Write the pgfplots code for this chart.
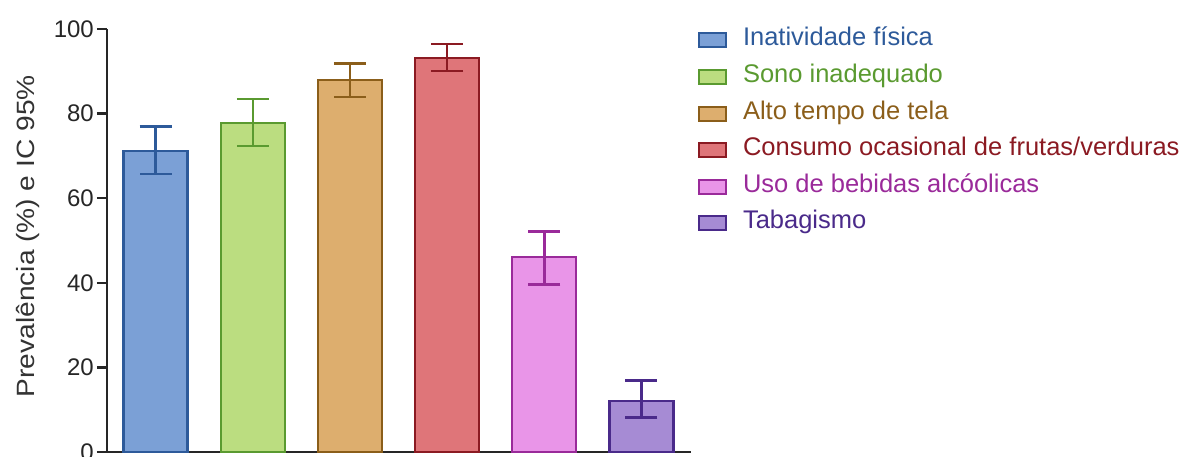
\documentclass[border=0pt]{standalone}
\usepackage{fontspec}
\setmainfont{Liberation Sans}
\usepackage{graphicx}
\usepackage{pgfplots}
\pgfplotsset{compat=1.18}
\definecolor{bluef}{HTML}{7BA0D6}\definecolor{bluee}{HTML}{2D5A9A}
\definecolor{greenf}{HTML}{BBDD80}\definecolor{greene}{HTML}{5A9A30}
\definecolor{orangef}{HTML}{DDAE6E}\definecolor{orangee}{HTML}{8B5E1A}
\definecolor{redf}{HTML}{DF7579}\definecolor{rede}{HTML}{8B1A22}
\definecolor{pinkf}{HTML}{E995E8}\definecolor{pinke}{HTML}{9A2A9A}
\definecolor{purplef}{HTML}{A68BD4}\definecolor{purplee}{HTML}{4A2A8A}
\pgfplotsset{
  mybar/.style 2 args={fill=#1, draw=#2, line width=2.3pt,
    error bars/.cd, y dir=both, y explicit,
    error bar style={line width=2.5pt, draw=#2},
    error mark options={rotate=90, mark size=16pt, line width=2.5pt, draw=#2}},
}
\begin{document}
\begin{tikzpicture}[x=1pt,y=1pt]
\begin{axis}[
  at={(0pt,0pt)}, anchor=south west,
  scale only axis, width=584pt, height=423pt,
  xmin=-0.5, xmax=5.51, ymin=0, ymax=100,
  axis x line*=bottom, axis y line*=left,
  xtick=\empty, ytick={0,20,...,100},
  tick align=outside, major tick length=10pt,
  every tick/.style={line width=2.3pt, color=black!85},
  axis line style={line width=2.3pt, color=black!85},
  /pgf/number format/assume math mode=true,
  ticklabel style={font=\fontsize{24}{28}\selectfont, color=black!85},
  yticklabel style={inner sep=0pt, xshift=-3pt},
  ylabel={\scalebox{1.125}[1]{Prevalência (\%) e IC 95\%}},
  ylabel style={at={(axis description cs:-0.135,0.51)}, anchor=center, font=\fontsize{25}{30}\selectfont, color=black!80},
  ybar, bar width=64pt, bar shift=0pt,
  clip=false,
  legend style={at={(axis description cs:1.012,1)}, anchor=north west, draw=none, fill=none,
    inner sep=0pt, outer sep=0pt, font=\fontsize{25.5}{30}\selectfont, row sep=13.6pt,
    nodes={inner sep=0pt, text height=17pt, text depth=6pt},
    /tikz/every odd column/.style={column sep=16pt}},
  legend cell align=left,
  legend image code/.code={\draw[#1, line width=2pt] (0pt,-7pt) rectangle (27pt,7pt);},
]
\addplot[mybar={bluef}{bluee}] coordinates {(0,71.2) += (0,5.7) -= (0,5.5)};
\addlegendentry{\textcolor{bluee}{Inatividade física}}
\addplot[mybar={greenf}{greene}] coordinates {(1,77.8) += (0,5.7) -= (0,5.5)};
\addlegendentry{\textcolor{greene}{Sono inadequado}}
\addplot[mybar={orangef}{orangee}] coordinates {(2,87.9) += (0,3.9) -= (0,4.0)};
\addlegendentry{\textcolor{orangee}{Alto tempo de tela}}
\addplot[mybar={redf}{rede}] coordinates {(3,93.2) += (0,3.2) -= (0,3.1)};
\addlegendentry{\textcolor{rede}{Consumo ocasional de frutas/verduras}}
\addplot[mybar={pinkf}{pinke}] coordinates {(4,46.1) += (0,6.0) -= (0,6.5)};
\addlegendentry{\textcolor{pinke}{Uso de bebidas alcóolicas}}
\addplot[mybar={purplef}{purplee}] coordinates {(5,12.1) += (0,4.8) -= (0,3.9)};
\addlegendentry{\textcolor{purplee}{Tabagismo}}
\end{axis}
\pgfresetboundingbox
\useasboundingbox (-107,-5) rectangle (1075,452);
\end{tikzpicture}
\end{document}
